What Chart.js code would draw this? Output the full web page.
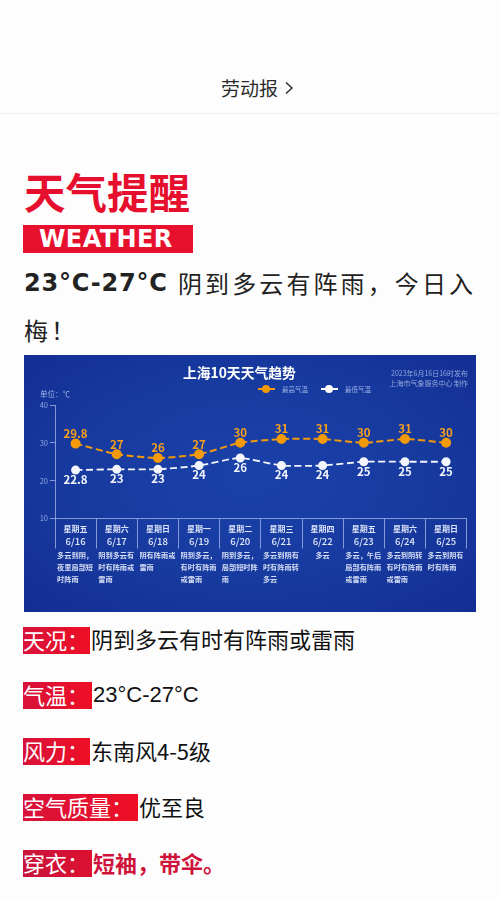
<!DOCTYPE html>
<html lang="zh">
<head>
<meta charset="utf-8">
<script src="https://cdn.jsdelivr.net/npm/chart.js@4"></script>
<style>
  html, body { margin: 0; padding: 0; background: #fdfdfd; }
  body { position: relative; width: 500px; height: 898px; overflow: hidden; font-family: "Noto Sans CJK SC", sans-serif; color: #1c1c1e; }
  .abs { position: absolute; white-space: nowrap; }
  .rule { left: 0; top: 113px; width: 500px; height: 1px; background: #efefef; }
  .panel { left: 24px; top: 355px; width: 452px; height: 257px;
    background: radial-gradient(ellipse at 50% 48%, #1a41aa 0%, #173a9f 55%, #132d93 100%); }
  #chart { position: absolute; left: 0; top: 0; }
  .label { left: 23px; height: 27px; line-height: 25px; background: linear-gradient(90deg, #d8123a, #ee0f25); color: #fff; font-size: 22px; }
  .value { font-size: 22px; line-height: 26px; color: #111; }
  .legend-text { font-size: 6.5px; line-height: 10px; color: #9db2e6; }
  .swatch { height: 2px; width: 17px; }
  .dot { width: 8px; height: 8px; border-radius: 50%; }
</style>
</head>
<body>
<div class="abs" style="left:221px;top:74px;font-size:19px;line-height:28px;color:#2a2a2a">劳动报</div>
<svg class="abs" style="left:284px;top:81px" width="10" height="14"><path d="M2 1.5 L8 7 L2 12.5" fill="none" stroke="#2a2a2a" stroke-width="1.4"/></svg>
<div class="abs rule"></div>

<div class="abs" style="left:24px;top:161px;font-size:41.5px;line-height:60px;font-weight:700;color:#e60f2d">天气提醒</div>
<div class="abs" style="left:23px;top:225px;width:170px;height:28px;background:#e8112d"></div>
<div class="abs" style="left:39px;top:225px;font-family:'DejaVu Sans';font-size:24px;line-height:28px;font-weight:700;letter-spacing:0.4px;color:#fff">WEATHER</div>

<div class="abs" style="left:24px;top:266px;font-family:'DejaVu Sans';font-size:24px;line-height:34px;font-weight:700;letter-spacing:0.8px;color:#222">23°C-27°C</div>
<div class="abs" style="left:178px;top:266px;font-size:24px;line-height:34px;letter-spacing:3.1px;color:#222">阴到多云有阵雨&#xFF0C;今日入</div>
<div class="abs" style="left:24px;top:313px;font-size:24px;line-height:34px;letter-spacing:3.1px;color:#222">梅&#xFF01;</div>

<div class="abs panel">
  <canvas id="chart" width="452" height="257"></canvas>
  <div class="abs" style="left:159px;top:5px;font-size:13.8px;line-height:24px;font-weight:700;color:#fff">上海10天天气趋势</div>
  <div class="abs" style="right:8px;top:13px;font-size:7px;line-height:10px;color:#8ea6dc;text-align:right">2023年6月16日16时发布<br>上海市气象服务中心 制作</div>
  <div class="abs swatch" style="left:234px;top:33px;background:#f39a0b"></div>
  <div class="abs dot" style="left:238px;top:30px;background:#f39a0b"></div>
  <div class="abs legend-text" style="left:258px;top:29px">最高气温</div>
  <div class="abs swatch" style="left:297px;top:33px;background:#fff"></div>
  <div class="abs dot" style="left:301px;top:30px;background:#fff"></div>
  <div class="abs legend-text" style="left:321px;top:29px">最低气温</div>
  <div class="abs" style="left:16px;top:34px;font-size:7.5px;line-height:10px;color:#9db2e6">单位&#xFF1A;℃</div>
</div>

<div class="abs label" style="top:627px;width:67px">天况&#xFF1A;</div>
<div class="abs value" style="left:91px;top:625px">阴到多云有时有阵雨或雷雨</div>
<div class="abs label" style="top:682px;width:69px">气温&#xFF1A;</div>
<div class="abs value" style="left:93px;top:682px;font-family:'Liberation Sans'">23°C-27°C</div>
<div class="abs label" style="top:738px;width:67px">风力&#xFF1A;</div>
<div class="abs value" style="left:91px;top:737px">东南风4-5级</div>
<div class="abs label" style="top:794px;width:115px">空气质量&#xFF1A;</div>
<div class="abs value" style="left:139px;top:793px">优至良</div>
<div class="abs label" style="top:850px;width:69px;background:linear-gradient(90deg,#c9143c,#dc1030)">穿衣&#xFF1A;</div>
<div class="abs value" style="left:93px;top:849px;color:#cf1239;font-weight:700">短袖&#xFF0C;带伞。</div>

<script>
const weekdays = ["星期五","星期六","星期日","星期一","星期二","星期三","星期四","星期五","星期六","星期日"];
const dates = ["6/16","6/17","6/18","6/19","6/20","6/21","6/22","6/23","6/24","6/25"];
const highTemps = [29.8,27,26,27,30,31,31,30,31,30];
const lowTemps = [22.8,23,23,24,26,24,24,25,25,25];
const yTicks = [10,20,30,40];
const forecasts = [
  ["多云到阴\uFF0C","夜里局部短","时阵雨"],
  ["阴到多云有","时有阵雨或","雷雨"],
  ["阴有阵雨或","雷雨"],
  ["阴到多云\uFF0C","有时有阵雨","或雷雨"],
  ["阴到多云\uFF0C","局部短时阵","雨"],
  ["多云到阴有","时有阵雨转","多云"],
  ["多云"],
  ["多云\uFF0C午后","局部有阵雨","或雷雨"],
  ["多云到阴转","有时有阵雨","或雷雨"],
  ["多云到阴有","时有阵雨"]
];

const FONT = '"Noto Sans CJK SC", sans-serif';
const axisColor = "rgba(190,206,242,0.65)";

// value labels above / below the points, dates and forecast text under each column
const annotate = {
  id: "annotate",
  afterDatasetsDraw(chart) {
    const c = chart.ctx;
    const x = chart.scales.x;
    c.save();
    c.textAlign = "center";
    c.textBaseline = "middle";
    c.font = "700 11.5px " + FONT;
    chart.getDatasetMeta(0).data.forEach((pt, i) => {
      c.fillStyle = "#f7a11a";
      c.fillText(highTemps[i], pt.x, pt.y - 10);
    });
    chart.getDatasetMeta(1).data.forEach((pt, i) => {
      c.fillStyle = "#f2f5fd";
      c.fillText(lowTemps[i], pt.x, pt.y + 9.5);
    });
    c.font = "500 9.5px " + FONT;
    c.fillStyle = "#e3eafa";
    dates.forEach((d, i) => c.fillText(d, x.getPixelForValue(i), 186));
    c.font = "700 7.2px " + FONT;
    c.fillStyle = "#d5def5";
    forecasts.forEach((lines, i) => {
      const cx = x.getPixelForValue(i);
      c.textAlign = lines.length === 1 ? "center" : "left";
      lines.forEach((line, j) => {
        c.fillText(line, lines.length === 1 ? cx : cx - 18.5, 200 + j * 12.2);
      });
    });
    c.restore();
  }
};

new Chart(document.getElementById("chart"), {
  type: "line",
  plugins: [annotate],
  data: {
    labels: weekdays,
    datasets: [
      { label: "最高气温", data: highTemps, borderColor: "#f39a0b", backgroundColor: "#f39a0b",
        borderWidth: 2, borderDash: [7, 3.5], pointRadius: 4, tension: 0.2 },
      { label: "最低气温", data: lowTemps, borderColor: "#f4f6fd", backgroundColor: "#f4f6fd",
        borderWidth: 1.8, borderDash: [7, 3.5], pointRadius: 3.6, tension: 0.2 }
    ]
  },
  options: {
    responsive: false,
    animation: false,
    layout: { padding: { top: 50, right: 9.3, left: 0, bottom: 0 } },
    plugins: { legend: { display: false }, title: { display: false }, tooltip: { enabled: false } },
    scales: {
      x: {
        offset: true,
        afterFit(s) { s.height = 93.5; },
        border: { color: axisColor, width: 1 },
        grid: { offset: true, drawOnChartArea: false, drawTicks: true, tickLength: 30, color: axisColor },
        ticks: {
          autoSkip: false, maxRotation: 0, padding: -25,
          color: "#dbe4f8", font: { family: FONT, size: 8, weight: "700", lineHeight: 1.45 }
        }
      },
      y: {
        min: 10,
        max: 40,
        afterFit(s) { s.width = 31; },
        afterBuildTicks(s) { s.ticks = yTicks.map(v => ({ value: v })); },
        border: { color: axisColor, width: 1 },
        grid: { drawOnChartArea: false, tickLength: 5, color: axisColor },
        ticks: { padding: 2, color: "#8fa8e0", font: { family: FONT, size: 7.5 } }
      }
    }
  }
});
</script>
</body>
</html>
